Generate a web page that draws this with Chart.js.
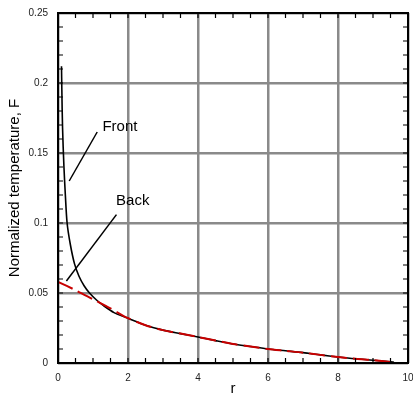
<!DOCTYPE html>
<html>
<head>
<meta charset="utf-8">
<script src="https://cdn.jsdelivr.net/npm/chart.js@4"></script>
<style>
  html, body { margin: 0; padding: 0; background: #fff; }
  #wrap { width: 413px; height: 396px; }
</style>
</head>
<body>
<div id="wrap"><canvas id="c"></canvas></div>
<script>
// values
const frontR = [0.1, 0.11, 0.13, 0.17, 0.21, 0.26, 0.35, 0.47, 0.6, 0.75, 0.9, 1.1, 1.3, 1.6, 2.0, 2.5, 3.0, 3.5, 4.0, 4.5, 5.0, 5.5, 6.0, 6.5, 7.0, 7.5, 8.0, 8.5, 9.0, 9.5, 9.6];
const frontF = [0.212, 0.195, 0.168, 0.14, 0.12, 0.1, 0.085, 0.071, 0.062, 0.055, 0.05, 0.045, 0.041, 0.036, 0.032, 0.027, 0.0235, 0.021, 0.0186, 0.016, 0.0136, 0.0118, 0.01, 0.0087, 0.0074, 0.0058, 0.0043, 0.003, 0.002, 0.0008, 0.0005];
const backR = [0, 0.5, 1.0, 1.5, 2.0, 2.5, 3.0, 3.5, 4.0, 4.5, 5.0, 5.5, 6.0, 6.5, 7.0, 7.5, 8.0, 8.5, 9.0, 9.5, 9.6];
const backF = [0.058, 0.052, 0.0455, 0.039, 0.032, 0.027, 0.0235, 0.021, 0.0186, 0.016, 0.0136, 0.0118, 0.01, 0.0087, 0.0074, 0.0058, 0.0043, 0.003, 0.002, 0.0008, 0.0005];

const xTickLabels = ['0', '2', '4', '6', '8', '10'];
const yTickLabels = ['0', '0.05', '0.1', '0.15', '0.2', '0.25'];

// label text and leader lines, in data units
const labelNames = ['Front', 'Back'];
const labelPos = [[1.27, 0.169], [1.66, 0.116]];
const frontLeader = [[1.12, 0.165], [0.32, 0.13]];
const backLeader = [[1.67, 0.106], [0.24, 0.0586]];

const toPts = (xs, ys) => xs.map((x, i) => ({ x: x, y: ys[i] }));
const pairPts = p => p.map(v => ({ x: v[0], y: v[1] }));

const FONT = "'Liberation Sans', Arial, sans-serif";

// frame, inward minor ticks and text labels
const framePlugin = {
  id: 'frame',
  afterDraw(chart) {
    const { ctx, chartArea: a, scales: { x, y } } = chart;
    ctx.save();
    ctx.strokeStyle = '#000';
    ctx.lineWidth = 1.2;
    ctx.beginPath();
    for (let v = 0; v <= 10.001; v += 0.5) {
      const px = x.getPixelForValue(v);
      ctx.moveTo(px, a.bottom); ctx.lineTo(px, a.bottom - 5);
      ctx.moveTo(px, a.top); ctx.lineTo(px, a.top + 5);
    }
    for (let v = 0; v <= 0.2501; v += 0.01) {
      const py = y.getPixelForValue(v);
      ctx.moveTo(a.left, py); ctx.lineTo(a.left + 5, py);
      ctx.moveTo(a.right, py); ctx.lineTo(a.right - 5, py);
    }
    ctx.stroke();
    ctx.lineWidth = 2;
    ctx.strokeRect(a.left, a.top, a.right - a.left, a.bottom - a.top);

    ctx.fillStyle = '#000';
    ctx.font = '15px ' + FONT;
    ctx.textBaseline = 'middle';
    ctx.textAlign = 'left';
    labelNames.forEach((t, i) => {
      ctx.fillText(t, x.getPixelForValue(labelPos[i][0]), y.getPixelForValue(labelPos[i][1]));
    });
    ctx.restore();
  }
};

new Chart(document.getElementById('c'), {
  type: 'line',
  data: {
    datasets: [
      {
        label: 'Back',
        data: toPts(backR, backF),
        borderColor: '#c80000',
        borderWidth: 2,
        borderDash: [16, 6],
        pointRadius: 0,
        tension: 0.3
      },
      {
        label: 'Front',
        data: toPts(frontR, frontF),
        borderColor: '#000',
        borderWidth: 1.6,
        pointRadius: 0,
        tension: 0.3
      },
      {
        label: 'frontLeader',
        data: pairPts(frontLeader),
        borderColor: '#000',
        borderWidth: 1.5,
        pointRadius: 0
      },
      {
        label: 'backLeader',
        data: pairPts(backLeader),
        borderColor: '#000',
        borderWidth: 1.5,
        pointRadius: 0
      }
    ]
  },
  options: {
    responsive: true,
    maintainAspectRatio: false,
    animation: false,
    layout: { padding: { top: 13, right: 5, left: 0, bottom: 0 } },
    plugins: {
      legend: { display: false },
      tooltip: { enabled: false }
    },
    scales: {
      x: {
        type: 'linear',
        min: 0,
        max: 10,
        ticks: {
          stepSize: 2,
          padding: 9,
          color: '#222',
          font: { family: FONT, size: 10 },
          maxRotation: 0,
          callback: (v, i) => xTickLabels[i]
        },
        grid: { color: '#8a8a8a', lineWidth: 2.5, drawTicks: false },
        border: { display: false },
        title: {
          display: true,
          text: 'r',
          color: '#000',
          font: { family: FONT, size: 15, lineHeight: 1 },
          padding: { top: 0, bottom: 0 }
        },
        afterFit: s => { s.height = 33; s.paddingLeft = 0; s.paddingRight = 0; }
      },
      y: {
        min: 0,
        max: 0.25,
        ticks: {
          stepSize: 0.05,
          padding: 10,
          color: '#222',
          font: { family: FONT, size: 10 },
          callback: (v, i) => yTickLabels[i]
        },
        grid: { color: '#8a8a8a', lineWidth: 2.5, drawTicks: false },
        border: { display: false },
        title: {
          display: true,
          text: 'Normalized temperature, F',
          color: '#000',
          font: { family: FONT, size: 15, lineHeight: 1 },
          padding: { top: 7, bottom: 0 }
        },
        afterFit: s => { s.width = 58; s.paddingTop = 0; s.paddingBottom = 0; }
      }
    }
  },
  plugins: [framePlugin]
});
</script>
</body>
</html>
